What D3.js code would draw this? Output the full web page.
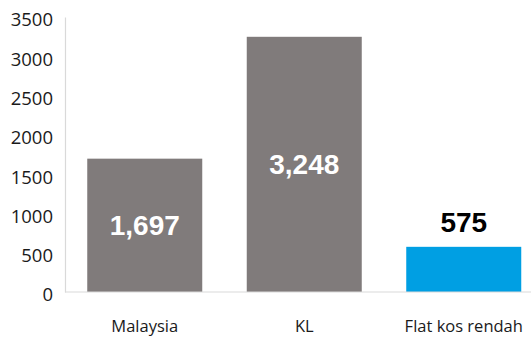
<!DOCTYPE html>
<html>
<head>
<meta charset="utf-8">
<script src="https://cdn.jsdelivr.net/npm/d3@7"></script>
<style>
  html, body { margin: 0; padding: 0; background: #fff; }
  svg { display: block; }
</style>
</head>
<body>
<svg id="chart" width="531" height="338"></svg>
<script>
// Housing figures by area
const categories = ["Malaysia", "KL", "Flat kos rendah"];
const values = [1697, 3248, 575];
const barColors = ["#807b7b", "#807b7b", "#009fe3"];
const labelInside = [true, true, false];
const yTicks = [0, 500, 1000, 1500, 2000, 2500, 3000, 3500];

const svg = d3.select("#chart");
const W = 531, H = 338;
const margin = { left: 65, top: 17, bottom: 46 };
const baseY = H - margin.bottom;

const y = d3.scaleLinear().domain([0, 3500]).range([baseY, margin.top]);
const x = d3.scaleBand()
  .domain(categories)
  .range([margin.left, margin.left + 478.5])
  .paddingInner(0.279)
  .paddingOuter(0.1395);

const tickFont = "'Open Sans', 'Noto Sans', sans-serif";

// Y axis: thin grey line with right-aligned labels
const yAxis = d3.axisLeft(y).tickValues(yTicks).tickSize(0).tickPadding(12).tickFormat(d3.format("d"));
const gy = svg.append("g").attr("transform", `translate(${margin.left},0)`).call(yAxis);
gy.select(".domain").attr("stroke", "#d9d9d9").attr("stroke-width", 1.2);
gy.selectAll("text")
  .attr("y", 3)
  .attr("fill", "#1a1a1a")
  .style("font-family", tickFont)
  .style("font-size", "18.5px");

// Bars
svg.append("g").selectAll("rect")
  .data(categories)
  .join("rect")
  .attr("x", d => x(d))
  .attr("width", x.bandwidth())
  .attr("y", (d, i) => y(values[i]))
  .attr("height", (d, i) => baseY - y(values[i]))
  .attr("fill", (d, i) => barColors[i]);

// X axis baseline and category labels
const xAxis = d3.axisBottom(x).tickSize(0).tickPadding(28);
const gx = svg.append("g").attr("transform", `translate(0,${baseY})`).call(xAxis);
gx.select(".domain").attr("stroke", "#d9d9d9").attr("stroke-width", 1.2)
  .attr("d", `M${margin.left},0H${W}`);
gx.selectAll("text")
  .attr("fill", "#1a1a1a")
  .style("font-family", tickFont)
  .style("font-size", "16.5px");

// Value labels
const fmt = d3.format(",");
svg.append("g").selectAll("text")
  .data(categories)
  .join("text")
  .attr("x", d => x(d) + x.bandwidth() / 2)
  .attr("y", (d, i) => labelInside[i]
    ? (y(values[i]) + baseY) / 2
    : y(values[i]) - 25)
  .attr("dy", "0.35em")
  .attr("text-anchor", "middle")
  .attr("fill", (d, i) => labelInside[i] ? "#ffffff" : "#000000")
  .style("font-family", "'Liberation Sans', Arial, sans-serif")
  .style("font-weight", "bold")
  .style("font-size", "28px")
  .text((d, i) => fmt(values[i]));
</script>
</body>
</html>
